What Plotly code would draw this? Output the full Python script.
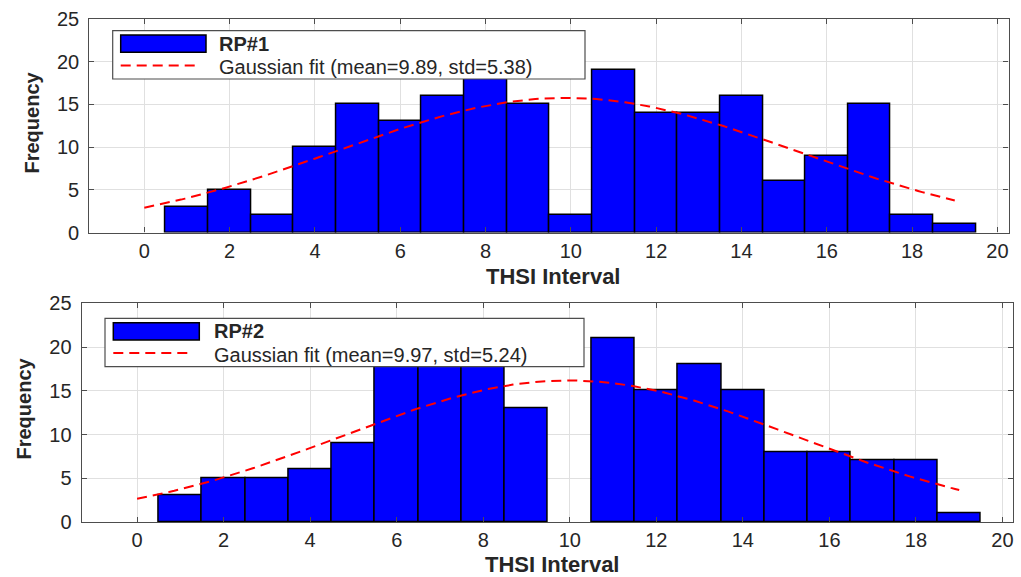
import numpy as np
import plotly.graph_objects as go

# ---------------- data ----------------
bin_centers = list(range(1, 20))
rp1_counts = [3, 5, 2, 10, 15, 13, 16, 18, 15, 2, 19, 14, 14, 16, 6, 9, 15, 2, 1]
rp2_counts = [3, 5, 5, 6, 9, 18, 18, 18, 13, 0, 21, 15, 18, 15, 8, 8, 7, 7, 1]
rp1_mean, rp1_std = 9.89, 5.38
rp2_mean, rp2_std = 9.97, 5.24
fit_bin_width = 1.09
fit_x_range = [0, 19]
series_names = ["RP#1", "RP#2"]
x_ticks = list(range(0, 21, 2))
y_ticks = list(range(0, 26, 5))
x_title = "THSI Interval"
y_title = "Frequency"

W, H = 1021, 577
FONT = "Liberation Sans, Arial, sans-serif"
TXT = "#262626"


def px(x):
    return x / W


def py(y):
    return 1 - y / H


panels = [
    dict(counts=rp1_counts, mean=rp1_mean, std=rp1_std, name=series_names[0],
         xdom=[89.3, 1008.5], ydom=[19.0, 232.5], xr=[-1.29, 20.26],
         leg=dict(box=[112.7, 30.7, 585, 79], sw=[120.7, 35, 206, 52.3],
                  line_y=65.5, line_x=[120.7, 200], tx=218, t1=43.8, t2=67.3),
         ytitle=(32, 122.5), xtitle=(553, 277)),
    dict(counts=rp2_counts, mean=rp2_mean, std=rp2_std, name=series_names[1],
         xdom=[81.7, 1013.3], ydom=[303.3, 522.0], xr=[-1.28, 20.25],
         leg=dict(box=[105, 318.3, 584, 366.7], sw=[113.3, 322.7, 199.3, 340],
                  line_y=353, line_x=[113.3, 193], tx=212.5, t1=331.3, t2=354.8),
         ytitle=(23.5, 409), xtitle=(552, 564.5)),
]

fig = go.Figure()
shapes = []
annotations = []

for i, p in enumerate(panels):
    ax = "" if i == 0 else str(i + 1)
    xa, ya = "x" + ax, "y" + ax
    counts = p["counts"]
    yvals = [c if c > 0 else None for c in counts]
    fig.add_trace(go.Bar(
        x=bin_centers, y=yvals, width=1.0, xaxis=xa, yaxis=ya,
        marker=dict(color="#0000ff", line=dict(color="#000000", width=1.5)),
        showlegend=False, name=p["name"]))
    n = sum(counts)
    amp = n * fit_bin_width / (p["std"] * np.sqrt(2 * np.pi))
    xs = np.linspace(fit_x_range[0], fit_x_range[1], 200)
    ys = amp * np.exp(-((xs - p["mean"]) ** 2) / (2 * p["std"] ** 2))
    fig.add_trace(go.Scatter(
        x=xs, y=ys, mode="lines", xaxis=xa, yaxis=ya,
        line=dict(color="#ff0000", width=2, dash="10px,6px"),
        showlegend=False))

    axis_common = dict(
        showline=True, linecolor="#4d4d4d", linewidth=1.2, mirror="ticks",
        ticks="inside", ticklen=5, tickcolor="#4d4d4d", tickwidth=1,
        showgrid=True, gridcolor="#e0e0e0", gridwidth=1, zeroline=False,
        tickfont=dict(family=FONT, size=20, color=TXT), automargin=False,
    )
    fig.layout["xaxis" + ax] = dict(
        axis_common, domain=[px(p["xdom"][0]), px(p["xdom"][1])],
        range=p["xr"], tickvals=x_ticks, anchor=ya)
    fig.layout["yaxis" + ax] = dict(
        axis_common, domain=[py(p["ydom"][1]), py(p["ydom"][0])],
        range=[0, 25], tickvals=y_ticks, anchor=xa, ticklabelstandoff=5)

    # legend (manual)
    L = p["leg"]
    b = L["box"]
    shapes.append(dict(type="rect", xref="paper", yref="paper",
                       x0=px(b[0]), x1=px(b[2]), y0=py(b[3]), y1=py(b[1]),
                       fillcolor="white", line=dict(color="#4d4d4d", width=1.2),
                       layer="above"))
    s = L["sw"]
    shapes.append(dict(type="rect", xref="paper", yref="paper",
                       x0=px(s[0]), x1=px(s[2]), y0=py(s[3]), y1=py(s[1]),
                       fillcolor="#0000ff", line=dict(color="#000000", width=1.5),
                       layer="above"))
    shapes.append(dict(type="line", xref="paper", yref="paper",
                       x0=px(L["line_x"][0]), x1=px(L["line_x"][1]),
                       y0=py(L["line_y"]), y1=py(L["line_y"]),
                       line=dict(color="#ff0000", width=2, dash="10px,6px"),
                       layer="above"))
    annotations.append(dict(xref="paper", yref="paper", x=px(L["tx"]), y=py(L["t1"]),
                            xanchor="left", yanchor="middle", showarrow=False,
                            text="<b>%s</b>" % p["name"], borderpad=0,
                            font=dict(family=FONT, size=20, color=TXT)))
    annotations.append(dict(xref="paper", yref="paper", x=px(L["tx"]), y=py(L["t2"]),
                            xanchor="left", yanchor="middle", showarrow=False,
                            text="Gaussian fit (mean=%.2f, std=%.2f)" % (p["mean"], p["std"]),
                            borderpad=0,
                            font=dict(family=FONT, size=20, color=TXT)))
    # axis titles
    annotations.append(dict(xref="paper", yref="paper",
                            x=px(p["ytitle"][0]), y=py(p["ytitle"][1]),
                            xanchor="center", yanchor="middle", showarrow=False,
                            textangle=-90, text="<b>%s</b>" % y_title,
                            font=dict(family=FONT, size=20, color=TXT)))
    annotations.append(dict(xref="paper", yref="paper",
                            x=px(p["xtitle"][0]), y=py(p["xtitle"][1]),
                            xanchor="center", yanchor="middle", showarrow=False,
                            text="<b>%s</b>" % x_title, borderpad=0,
                            font=dict(family=FONT, size=22, color=TXT)))

fig.update_layout(
    width=W, height=H, margin=dict(l=0, r=0, t=0, b=0, autoexpand=False),
    paper_bgcolor="white", plot_bgcolor="white",
    bargap=0, showlegend=False,
    shapes=shapes, annotations=annotations,
)

fig.write_html("out.html")
